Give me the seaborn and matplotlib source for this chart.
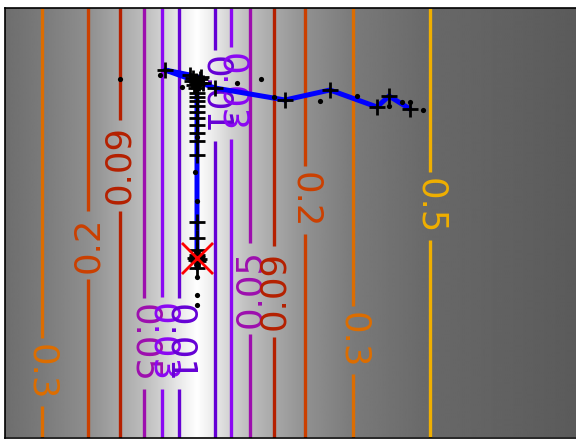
import numpy as np
import matplotlib
matplotlib.use("Agg")
import matplotlib.pyplot as plt
import seaborn as sns

# cross-section of the loss surface (it only varies along x)
profile_x = [0.00, 0.365, 0.83, 1.145, 1.39, 1.575, 1.74, 1.92, 2.10, 2.26, 2.45, 2.69, 3.00, 3.48, 4.25, 6.40]
profile_f = [0.39, 0.30, 0.20, 0.09, 0.05, 0.03, 0.01, 0.00, 0.01, 0.03, 0.05, 0.09, 0.20, 0.30, 0.50, 0.62]
# grey shading of the background at the same points (1 = white)
profile_shade = [0.43, 0.48, 0.56, 0.66, 0.74, 0.82, 0.91, 1.00, 0.91, 0.82, 0.74, 0.66, 0.57, 0.48, 0.41, 0.33]

levels = [0.01, 0.03, 0.05, 0.09, 0.2, 0.3, 0.5]

# optimiser path (iterates)
path_x = [4.05, 3.84, 3.72, 3.25, 2.80, 2.10, 1.60, 1.85, 1.88, 1.96, 1.95, 1.87, 1.91, 1.98, 1.89, 1.94,
          1.92, 1.91, 1.92, 1.92, 1.92, 1.92, 1.92, 1.92, 1.92, 1.92, 1.92, 1.92, 1.92, 1.92, 1.92, 1.92,
          1.92, 1.90, 1.94, 1.91, 1.93, 1.92]
path_y = [3.285, 3.415, 3.305, 3.475, 3.375, 3.495, 3.675, 3.625, 3.595, 3.605, 3.585, 3.565, 3.565, 3.545,
          3.525, 3.545, 3.535, 3.495, 3.445, 3.405, 3.365, 3.315, 3.255, 3.195, 3.125, 3.045, 2.965, 2.825,
          2.155, 1.995, 1.875, 1.825, 1.805, 1.795, 1.785, 1.775, 1.765, 1.695]

# sampled evaluations
eval_x = [1.15, 1.55, 1.77, 2.32, 2.56, 2.69, 3.15, 3.52, 3.84, 3.97, 4.05, 4.18, 1.92, 1.90, 1.92, 1.92, 1.92, 1.92]
eval_y = [3.585, 3.625, 3.505, 3.545, 3.585, 3.405, 3.365, 3.415, 3.315, 3.355, 3.355, 3.275, 3.005, 2.655,
          2.365, 1.605, 1.425, 1.325]

# true minimum
opt_x = [1.92]
opt_y = [1.795]

sns.set_theme(style="white")

line_colors = [plt.cm.gnuplot(t) for t in [0.16, 0.30, 0.38, 0.50, 0.63, 0.75, 0.88]]

fig = plt.figure(figsize=(5.76, 4.42), dpi=100)
ax = fig.add_axes([5 / 576, 4.5 / 442, 640 / 576, 430 / 442])

gx = np.linspace(0, 6.4, 1601)
gy = np.linspace(0, 4.3, 5)
shade = np.interp(gx, profile_x, profile_shade)
ax.imshow(shade[None, :], extent=(0, 6.4, 0, 4.3), cmap="gray", vmin=0, vmax=1,
          aspect="auto", interpolation="bilinear", origin="lower", zorder=0)

Z = np.tile(np.interp(gx, profile_x, profile_f), (len(gy), 1))
cs = ax.contour(gx, gy, Z, levels=levels, colors=line_colors, linewidths=2.4, zorder=1)

label_spots = [(0.365, 0.655), (0.83, 1.925), (1.145, 2.725), (1.39, 0.945), (1.575, 0.945),
               (1.74, 0.945), (2.10, 3.425), (2.26, 3.445), (2.45, 1.495), (2.69, 1.465),
               (3.00, 2.375), (3.48, 0.975), (4.25, 2.315)]
label_rot = [-90, 90, 90, -90, -90, -90, -90, -90, 90, 90, -90, -90, -90]
texts = ax.clabel(cs, inline=True, fontsize=25.5, fmt="%g", manual=label_spots, inline_spacing=6)
for t in texts:
    tx, ty = t.get_position()
    k = int(np.argmin([(tx - sx) ** 2 + (ty - sy) ** 2 for sx, sy in label_spots]))
    t.set_rotation(label_rot[k])

sns.lineplot(x=path_x, y=path_y, sort=False, estimator=None, color="blue", lw=3.6, ax=ax, zorder=3)
sns.scatterplot(x=path_x, y=path_y, marker="+", color="black", s=130, linewidth=2.0, ax=ax, zorder=4)
sns.scatterplot(x=eval_x, y=eval_y, color="black", s=14, linewidth=0, ax=ax, zorder=4)
sns.scatterplot(x=opt_x, y=opt_y, marker="x", color="red", s=500, linewidth=2.0, ax=ax, zorder=5)

ax.set_xlim(0, 6.4)
ax.set_ylim(0, 4.3)
ax.set_xticks([])
ax.set_yticks([])
for sp in ax.spines.values():
    sp.set_color("black")
    sp.set_linewidth(1.2)

fig.savefig("out.png", dpi=100)
